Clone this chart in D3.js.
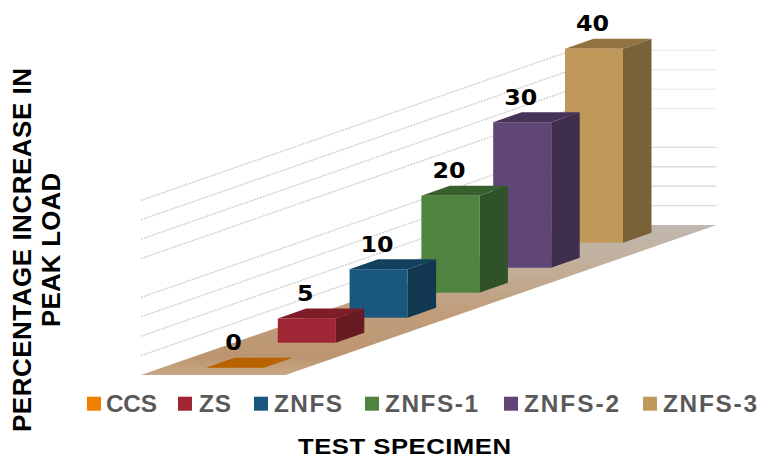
<!DOCTYPE html>
<html><head><meta charset="utf-8">
<script src="https://cdn.jsdelivr.net/npm/d3@7"></script>
<style>html,body{margin:0;padding:0;background:#fff}svg{display:block}</style>
</head><body><svg id="c" width="758" height="455"></svg>
<script>
const categories = ["CCS","ZS","ZNFS","ZNFS-1","ZNFS-2","ZNFS-3"];
const values = [0,5,10,20,30,40];
const gridValues = [4,8,12,16,24,28,32,36];
const frontColors = ["#f08000","#a02535","#19577c","#4f8440","#5f4677","#c0985a"];
const topColors = ["#b86200","#7e1c28","#134260","#38602e","#46335a","#90733f"];
const sideColors = ["#8a4a00","#661a22","#123750","#2f5228","#3f2e4e","#7a6238"];
const legendBoxX = [87,178,254,365,504,643];
const legendTextX = [106,199,274,385,524,663];
const legendTextW = [51,32,68,93,95,94];

const svg = d3.select("#c");
const W = 58, DX = 28.5, DY = 10;
const x = d3.scalePoint().domain(categories).range([206,565]);
const base = d3.scalePoint().domain(categories).range([367.7,242.7]);
const h = d3.scaleLinear().domain([0,40]).range([0,194]);
const fill = d3.scaleOrdinal().domain(categories).range(frontColors);
const topFill = d3.scaleOrdinal().domain(categories).range(topColors);
const sideFill = d3.scaleOrdinal().domain(categories).range(sideColors);
const pts = p => p.map(q => q.join(",")).join(" ");

// floor
const floorX = d3.scaleLinear().domain([0,1]).range([141,572]);
const floorY = d3.scaleLinear().domain([0,1]).range([375,225]);
const floorW = 144.5;
const defs = svg.append("defs");
const g = defs.append("linearGradient").attr("id","floor").attr("x1",0).attr("y1",1).attr("x2",0).attr("y2",0);
[[0,"#c7a784"],[0.12,"#bc9570"],[0.45,"#c09f7e"],[0.75,"#c2b09c"],[1,"#c0b8b0"]].forEach(s=>g.append("stop").attr("offset",s[0]).attr("stop-color",s[1]));
svg.append("polygon").attr("fill","url(#floor)")
  .attr("points",pts([[floorX(0),floorY(0)],[floorX(0)+floorW,floorY(0)],[floorX(1)+floorW,floorY(1)],[floorX(1),floorY(1)]]));

// grid
const grid = svg.append("g").attr("fill","none");
gridValues.forEach(v=>{
  grid.append("line").attr("x1",floorX(0)).attr("y1",floorY(0)-h(v)).attr("x2",floorX(1)).attr("y2",floorY(1)-h(v))
    .attr("stroke","#d0d0d0").attr("stroke-width",1.4).attr("stroke-dasharray","2 1");
  grid.append("line").attr("x1",floorX(1)).attr("y1",floorY(1)-h(v)).attr("x2",floorX(1)+floorW).attr("y2",floorY(1)-h(v))
    .attr("stroke",v>20?"#eeeeee":"#dcdcdc").attr("stroke-width",1.4);
});

// bars, back to front so nearer bars overlap farther ones
const data = categories.map((c,i)=>({c,v:values[i]}));
const bars = svg.selectAll("g.bar").data(data.slice().reverse()).join("g").attr("class","bar");
bars.append("polygon").attr("fill",d=>sideFill(d.c)).attr("points",d=>{
  const l=x(d.c)+W,b=base(d.c),t=b-h(d.v);
  return pts([[l,b],[l+DX,b-DY],[l+DX,t-DY],[l,t]]);
});
bars.append("polygon").attr("fill",d=>topFill(d.c)).attr("points",d=>{
  const l=x(d.c),t=base(d.c)-h(d.v);
  return pts([[l,t],[l+W,t],[l+W+DX,t-DY],[l+DX,t-DY]]);
});
bars.filter(d=>d.v>0).append("rect").attr("fill",d=>fill(d.c))
  .attr("x",d=>x(d.c)).attr("y",d=>base(d.c)-h(d.v)).attr("width",W).attr("height",d=>h(d.v));

// value labels
svg.selectAll("text.val").data(data).join("text").attr("class","val").text(d=>d.v)
  .attr("transform",d=>`translate(${x(d.c)+27.5},${base(d.c)-h(d.v)-DY-7.5}) scale(1.08,1)`)
  .attr("text-anchor","middle").attr("font-family","DejaVu Sans").attr("font-weight","bold")
  .attr("font-size",22).attr("fill","#000");

// legend
const leg = svg.selectAll("g.leg").data(categories).join("g").attr("class","leg");
leg.append("rect").attr("x",(d,i)=>legendBoxX[i]).attr("y",396.7).attr("width",14).attr("height",14).attr("fill",d=>fill(d));
leg.append("text").text(d=>d)
  .attr("transform",(d,i)=>`translate(${legendTextX[i]},412) scale(1.06,1)`)
  .attr("textLength",(d,i)=>legendTextW[i]/1.06).attr("lengthAdjust","spacing")
  .attr("font-family","Liberation Sans").attr("font-weight","bold").attr("font-size",23).attr("fill","#595959");

// titles
const title=(s,tx,ty,rot,len,fs,sx)=>svg.append("text").text(s)
  .attr("transform",`translate(${tx},${ty}) rotate(${rot}) scale(${sx},1)`).attr("text-anchor","start")
  .attr("textLength",len/sx).attr("lengthAdjust","spacing")
  .attr("font-family","Liberation Sans").attr("font-weight","bold").attr("font-size",fs).attr("fill","#000");
title("TEST SPECIMEN",298,453.5,0,213,23,1.12);
title("PERCENTAGE INCREASE IN",30.5,432,-90,364,25,1.04);
title("PEAK LOAD",60,327,-90,154,25,1.03);
</script></body></html>
